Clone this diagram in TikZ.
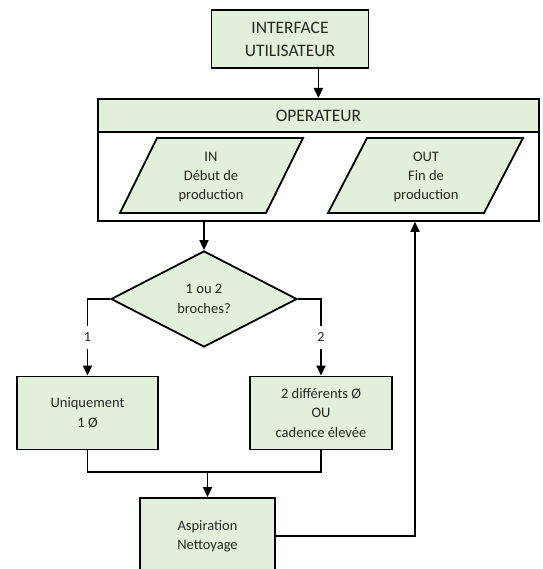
\documentclass[tikz,border=0pt]{standalone}
\usepackage{fontspec}
\setmainfont{Carlito}
\usetikzlibrary{shapes.geometric,arrows.meta}
\definecolor{boxgreen}{HTML}{E2EFDA}
\definecolor{txt}{HTML}{262626}
\begin{document}
\begin{tikzpicture}[x=1pt,y=-1pt, line width=1.8pt,
  box/.style={draw, fill=boxgreen, rectangle, align=center, inner sep=0pt, text=txt, font=\fontsize{14.5}{19.5}\selectfont},
  para/.style={draw, fill=boxgreen, line join=miter},
  ptext/.style={align=center, inner sep=0pt, text=txt, font=\fontsize{14.5}{19}\selectfont},
  arr/.style={-{Triangle[length=10pt,width=9pt]}},
  lab/.style={fill=white, inner xsep=2pt, inner ysep=7pt, text=txt, font=\fontsize{14}{16}\selectfont}]
\useasboundingbox (0,0) rectangle (542,569);
\clip (0,0) rectangle (542,569);

% interface
\node[box, minimum width=157pt, minimum height=58pt, font=\fontsize{17.5}{23}\selectfont] (ui) at (290,39) {INTERFACE\\UTILISATEUR};

% operator block
\node[draw, fill=white, rectangle, minimum width=441pt, minimum height=122pt, anchor=north west, inner sep=0pt] (op) at (97,98) {};
\node[box, minimum width=441pt, minimum height=33pt, anchor=north west, font=\fontsize{17.5}{20}\selectfont] (hd) at (97,98) {OPERATEUR};
\draw[arr] (ui.south -| hd.north) -- (hd.north);

% IN / OUT parallelograms
\draw[para] (120,213) -- (157,138) -- (303,138) -- (266,213) -- cycle;
\node[ptext] (in) at (211,177) {IN\\Début de\\production};
\draw[para] (328,213) -- (367,138) -- (523,138) -- (484,213) -- cycle;
\node[ptext] (out) at (426,177) {OUT\\Fin de\\production};

% decision
\node[box, diamond, minimum width=186pt, minimum height=96pt] (dec) at (204,299) {1 ou 2\\broches?};
\draw[arr] (op.south -| dec.north) -- (dec.north);

% branch boxes
\node[box, minimum width=141pt, minimum height=73pt] (u1) at (87.5,413) {Uniquement\\1 Ø};
\node[box, minimum width=142pt, minimum height=73pt] (u2) at (321,413) {2 différents Ø\\OU\\cadence élevée};
\draw[arr] (dec.west) -| (u1.north) node[lab, pos=0.75] {1};
\draw[arr] (dec.east) -| (u2.north) node[lab, pos=0.75] {2};

% aspiration
\node[box, minimum width=135pt, minimum height=76pt] (asp) at (207.5,536) {Aspiration\\Nettoyage};
\coordinate (m) at (207.5,472);
\draw (u1.south) |- (m) -| (u2.south);
\draw[arr] (m) -- (asp.north);

% return
\coordinate (ret) at (415,0);
\draw[arr] (asp.east) -| (op.south -| ret);
\end{tikzpicture}
\end{document}
